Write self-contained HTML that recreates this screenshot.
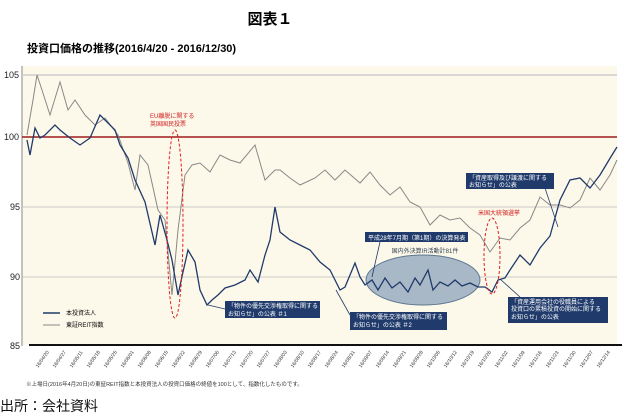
<!DOCTYPE html>
<html><head><meta charset="utf-8"><style>
body{margin:0;background:#fff;width:630px;height:417px;overflow:hidden;font-family:"Liberation Sans","Noto Sans CJK JP",sans-serif}
</style></head><body>
<svg width="630" height="417" xmlns="http://www.w3.org/2000/svg" style="position:absolute;left:0;top:0">
<style>text{font-family:"Liberation Sans","Noto Sans CJK JP",sans-serif}</style>
<text x="270" y="24" font-size="15" text-anchor="middle" font-weight="bold">図表１</text>
<text x="27" y="52" font-size="11" font-weight="bold">投資口価格の推移(2016/4/20 - 2016/12/30)</text>
<rect x="22" y="66" width="595" height="279" fill="#fdf9ea"/>
<line x1="22" y1="66" x2="22" y2="346" stroke="#888" stroke-width="1"/>
<line x1="22" y1="75" x2="617" y2="75" stroke="#ccc" stroke-width="1.5"/>
<line x1="22" y1="207" x2="617" y2="207" stroke="#bbb" stroke-width="0.8"/>
<line x1="22" y1="277" x2="617" y2="277" stroke="#bbb" stroke-width="0.8"/>
<line x1="22" y1="137" x2="617" y2="137" stroke="#9b1c1c" stroke-width="1.5"/>
<line x1="29" y1="345" x2="622" y2="345" stroke="#111" stroke-width="2"/>
<g font-size="9" fill="#222"><text x="4" y="78">105</text><text x="4" y="140">100</text><text x="10" y="210">95</text><text x="10" y="280">90</text><text x="10" y="349">85</text></g>
<ellipse cx="423" cy="280" rx="57" ry="25" fill="#a9b8c6" stroke="#5d7891" stroke-width="1"/>
<text x="425" y="253" font-size="6" fill="#345" text-anchor="middle">国内外決算IR活動計81件</text>
<polyline fill="none" stroke="#888" stroke-width="1" points="27,135 33,100 37,75 42,90 50,115 60,82 68,110 75,100 85,115 95,125 105,118 118,135 128,163 135,190 140,155 148,165 158,210 165,220 172,295 178,230 185,175 192,165 200,163 210,172 220,155 230,160 240,163 255,145 265,180 275,170 280,170 290,178 300,185 315,178 325,170 335,180 345,170 360,183 370,172 380,185 390,195 400,187 410,202 420,207 430,225 440,215 450,220 460,218 470,228 480,235 490,252 500,238 510,240 520,228 530,220 540,197 550,205 560,205 570,208 580,200 590,178 600,190 610,175 617,160"/>
<polyline fill="none" stroke="#1f3a6b" stroke-width="1.3" points="27,140 30,155 35,128 40,138 45,135 55,125 60,130 70,138 80,145 90,138 100,115 115,130 120,145 128,158 135,180 145,202 155,245 160,215 167,240 172,260 178,295 183,272 188,250 195,262 200,290 207,305 212,300 218,295 225,288 235,285 245,280 250,270 258,282 265,255 270,240 275,207 280,232 290,240 300,245 310,250 320,262 330,270 340,290 345,287 355,263 360,277 365,285 372,280 378,290 385,278 392,288 400,282 408,292 415,278 420,285 428,270 433,290 440,282 448,286 455,280 462,286 470,283 478,287 485,287 492,292 498,280 505,278 510,270 520,255 530,265 540,248 550,236 560,200 570,180 580,178 590,188 600,175 612,155 617,147"/>
<ellipse cx="175" cy="224" rx="8" ry="94" fill="none" stroke="#e02020" stroke-dasharray="3,2" stroke-width="1"/>
<ellipse cx="492" cy="256" rx="8" ry="38" fill="none" stroke="#e02020" stroke-dasharray="3,2" stroke-width="1"/>
<text x="150" y="118" font-size="6" fill="#d02020">EU離脱に関する</text><text x="150" y="126" font-size="6" fill="#d02020">英国国民投票</text>
<text x="478" y="215" font-size="6" fill="#d02020">米国大統領選挙</text>
<g stroke="#1f3a6b" stroke-width="0.8"><line x1="545" y1="188" x2="558" y2="227"/><line x1="380" y1="242" x2="372" y2="277"/><line x1="225" y1="309" x2="208" y2="305"/><line x1="350" y1="315" x2="336" y2="290"/><line x1="520" y1="297" x2="500" y2="279"/></g>
<g fill="#1f3a6b"><rect x="466" y="173" width="88" height="16"/><rect x="365" y="232" width="103" height="10"/><rect x="225" y="301" width="95" height="17"/><rect x="350" y="312" width="97" height="18"/><rect x="508" y="297" width="100" height="26"/></g>
<g font-size="6" fill="#fff">
<text x="469" y="180">「資産取得及び譲渡に関する</text><text x="469" y="187">お知らせ」の公表</text>
<text x="368" y="240">平成28年7月期（第1期）の決算発表</text>
<text x="228" y="308">「物件の優先交渉権取得に関する</text><text x="228" y="316">お知らせ」の公表 ＃1</text>
<text x="353" y="319">「物件の優先交渉権取得に関する</text><text x="353" y="327">お知らせ」の公表 ＃2</text>
<text x="511" y="304">「資産運用会社の役職員による</text><text x="511" y="311">投資口の累積投資の開始に関する</text><text x="511" y="319">お知らせ」の公表</text>
</g>
<line x1="43" y1="313" x2="60" y2="313" stroke="#1f3a6b" stroke-width="1.5"/><text x="66" y="315" font-size="6">本投資法人</text>
<line x1="43" y1="325" x2="60" y2="325" stroke="#888" stroke-width="1"/><text x="66" y="327" font-size="6">東証REIT指数</text>
<g font-size="5" fill="#333">
<text transform="translate(38,368) rotate(-55)">16/04/20</text><text transform="translate(55,368) rotate(-55)">16/04/27</text><text transform="translate(72,368) rotate(-55)">16/05/11</text><text transform="translate(89,368) rotate(-55)">16/05/18</text><text transform="translate(106,368) rotate(-55)">16/05/25</text><text transform="translate(123,368) rotate(-55)">16/06/01</text><text transform="translate(140,368) rotate(-55)">16/06/08</text><text transform="translate(157,368) rotate(-55)">16/06/15</text><text transform="translate(174,368) rotate(-55)">16/06/22</text><text transform="translate(191,368) rotate(-55)">16/06/29</text><text transform="translate(208,368) rotate(-55)">16/07/06</text><text transform="translate(225,368) rotate(-55)">16/07/13</text><text transform="translate(242,368) rotate(-55)">16/07/20</text><text transform="translate(259,368) rotate(-55)">16/07/27</text><text transform="translate(276,368) rotate(-55)">16/08/03</text><text transform="translate(293,368) rotate(-55)">16/08/10</text><text transform="translate(310,368) rotate(-55)">16/08/17</text><text transform="translate(327,368) rotate(-55)">16/08/24</text><text transform="translate(344,368) rotate(-55)">16/08/31</text><text transform="translate(361,368) rotate(-55)">16/09/07</text><text transform="translate(378,368) rotate(-55)">16/09/14</text><text transform="translate(395,368) rotate(-55)">16/09/21</text><text transform="translate(412,368) rotate(-55)">16/09/28</text><text transform="translate(429,368) rotate(-55)">16/10/05</text><text transform="translate(446,368) rotate(-55)">16/10/12</text><text transform="translate(463,368) rotate(-55)">16/10/19</text><text transform="translate(480,368) rotate(-55)">16/10/26</text><text transform="translate(497,368) rotate(-55)">16/11/02</text><text transform="translate(514,368) rotate(-55)">16/11/09</text><text transform="translate(531,368) rotate(-55)">16/11/16</text><text transform="translate(548,368) rotate(-55)">16/11/23</text><text transform="translate(565,368) rotate(-55)">16/11/30</text><text transform="translate(582,368) rotate(-55)">16/12/07</text><text transform="translate(599,368) rotate(-55)">16/12/14</text>
</g>
<text x="26" y="386" font-size="5.5" fill="#333">※上場日(2016年4月20日)の東証REIT指数と本投資法人の投資口価格の終値を100として、指数化したものです。</text>
<text x="0" y="411" font-size="14" fill="#111">出所：会社資料</text>
</svg>
</body></html>
